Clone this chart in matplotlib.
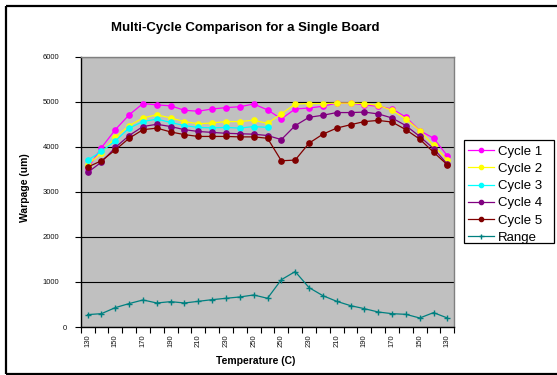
import numpy as np
import matplotlib
matplotlib.use("Agg")
import matplotlib.pyplot as plt
from matplotlib.lines import Line2D
from matplotlib.patches import Rectangle
from matplotlib.transforms import ScaledTranslation

plt.rcParams['font.family'] = ['Liberation Sans', 'DejaVu Sans']

temps = [130, 140, 150, 160, 170, 180, 190, 200, 210, 220, 230, 240, 250, 260,
         250, 240, 230, 220, 210, 200, 190, 180, 170, 160, 150, 140, 130]

cycle1 = [3510, 3980, 4380, 4710, 4960, 4930, 4910, 4810, 4790, 4840, 4870, 4890, 4950, 4820,
          4620, 4840, 4860, 4900, 4970, 4970, 4930, 4900, 4840, 4660, 4360, 4190, 3800]
cycle2 = [3600, 3860, 4210, 4470, 4640, 4710, 4640, 4560, 4510, 4530, 4560, 4560, 4590, 4520,
          4730, 4950, 4960, 4960, 4970, 4970, 4960, 4920, 4810, 4620, 4360, 4030, 3710]
cycle3 = [3700, 3900, 4130, 4415, 4560, 4615, 4540, 4470, 4430, 4420, 4430, 4415, 4450, 4430,
          np.nan, np.nan, np.nan, np.nan, np.nan, np.nan, np.nan, np.nan, np.nan, np.nan,
          np.nan, np.nan, np.nan]
cycle4 = [3430, 3660, 3985, 4250, 4450, 4500, 4450, 4380, 4340, 4320, 4300, 4290, 4280, 4250,
          4160, 4470, 4655, 4700, 4760, 4760, 4770, 4730, 4640, 4470, 4230, 3960, 3615]
cycle5 = [3550, 3690, 3930, 4190, 4380, 4415, 4330, 4270, 4230, 4230, 4230, 4220, 4220, 4190,
          3690, 3705, 4080, 4280, 4415, 4490, 4560, 4585, 4550, 4380, 4170, 3880, 3600]
rng = [275, 296, 430, 520, 600, 533, 563, 533, 570, 607, 637, 667, 711, 637,
       1050, 1230, 875, 696, 570, 474, 407, 333, 296, 281, 200, 319, 200]

series = [("Cycle 1", cycle1, "#FF00FF", "o"),
          ("Cycle 2", cycle2, "#FFFF00", "o"),
          ("Cycle 3", cycle3, "#00FFFF", "o"),
          ("Cycle 4", cycle4, "#800080", "o"),
          ("Cycle 5", cycle5, "#800000", "o"),
          ("Range", rng, "#008080", "+")]

W, H = 557, 375
fig = plt.figure(figsize=(W / 100, H / 100), dpi=100)
fig.patch.set_facecolor("white")
fig.patch.set_edgecolor("white")
fig.patch.set_linewidth(0)

# outer chart border (top, left, bottom only visible)
for xs, ys in [((6 / W, 1.0), (1 - 6 / H, 1 - 6 / H)),
               ((6 / W, 6 / W), (1 - 6 / H, 1 - 374 / H)),
               ((6 / W, 1.0), (1 - 374 / H, 1 - 374 / H))]:
    fig.lines.append(Line2D(xs, ys, transform=fig.transFigure, color="black",
                            linewidth=1.6, solid_capstyle="butt", zorder=-2))

ax = fig.add_axes([80.7 / W, 1 - 327 / H, (454.3 - 80.7) / W, (327 - 56.7) / H])
ax.set_facecolor("#C0C0C0")

x = np.arange(len(temps))
for name, vals, col, mk in series:
    if mk == "o":
        ax.plot(x, vals, color=col, lw=0.9, marker="o", markersize=3.8,
                markeredgecolor=col, markerfacecolor=col, label=name)
    else:
        ax.plot(x, vals, color=col, lw=0.9, marker="+", markersize=4.5,
                markeredgewidth=1.0, label=name)

ax.set_xlim(-0.5, len(temps) - 0.5)
ax.set_ylim(0, 6000)
ax.set_yticks(np.arange(0, 6001, 1000))
ax.set_yticklabels([str(v) for v in range(0, 6001, 1000)], fontsize=5.5, color="#111111")
ax.yaxis.grid(True, color="black", linewidth=0.8)
ax.set_axisbelow(True)
ax.tick_params(axis="y", direction="out", length=4, width=0.8, pad=11.5)

ax.set_xticks(np.arange(-0.5, len(temps), 1.0))
ax.set_xticklabels([])
ax.tick_params(axis="x", which="major", direction="out", length=4, width=0.8)
ax.set_xticks(x[::2], minor=True)
ax.set_xticklabels([str(t) for t in temps[::2]], minor=True, rotation=90,
                   fontsize=5.5, color="#111111")
ax.tick_params(axis="x", which="minor", length=0, pad=5.5)

for s in ("top", "right"):
    ax.spines[s].set_color("#808080")
    ax.spines[s].set_linewidth(1.0)
for s in ("left", "bottom"):
    ax.spines[s].set_color("black")
    ax.spines[s].set_linewidth(1.0)

# "0" label sits slightly to the right in the reference
lbl0 = ax.get_yticklabels()[0]
lbl0.set_transform(lbl0.get_transform() + ScaledTranslation(7.5 / 100, 0, fig.dpi_scale_trans))

fig.text(245.5 / W, 1 - 30.7 / H, "Multi-Cycle Comparison for a Single Board",
         ha="center", va="baseline", fontsize=9.5, fontweight="bold")
fig.text(255.5 / W, 1 - 364 / H, "Temperature (C)", ha="center", va="baseline",
         fontsize=7.5, fontweight="bold")
fig.text(25 / W, 1 - 188 / H, "Warpage (um)", ha="center", va="center",
         rotation=90, fontsize=7.5, fontweight="bold")

# legend frame drawn separately (Excel-style extra padding on the right)
fig.patches.append(Rectangle((464 / W, 1 - 243 / H), 90 / W, 103 / H,
                             transform=fig.transFigure, facecolor="white",
                             edgecolor="black", linewidth=0.9, zorder=-1))
leg = ax.legend(loc="upper left", bbox_to_anchor=(464 / W, 1 - 141.5 / H),
                bbox_transform=fig.transFigure, borderaxespad=0,
                fontsize=9.5, frameon=False,
                handlelength=2.0, handletextpad=0.25,
                labelspacing=0.38, borderpad=0.3, markerscale=0.8)

fig.savefig("out.png", dpi=100)
